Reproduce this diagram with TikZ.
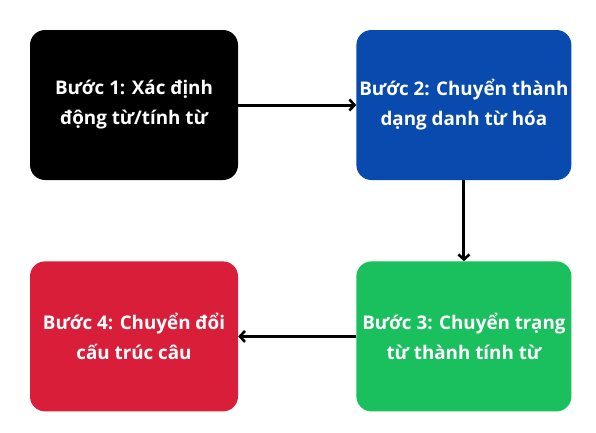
\documentclass[tikz,border=0pt]{standalone}
\usepackage{fontspec}
\setmainfont{Open Sans}
\usepackage{tikz}
\usetikzlibrary{positioning, arrows.meta, calc}
\definecolor{stepblue}{RGB}{8,74,174}
\definecolor{stepgreen}{RGB}{26,191,94}
\definecolor{stepred}{RGB}{217,30,58}
\tikzset{
  flow/.style={
	x=1pt, y=1pt, % one unit is one pixel of the picture
	node distance=118pt, % gap between the two columns
	stepbox/.style={rectangle, rounded corners=15pt, minimum height=150pt, inner sep=2pt,
	  align=center, text=white, font=\bfseries\fontsize{18.8}{30}\selectfont}, % sets the look of each box
	link/.style={-{Straight Barb[length=5pt,width=11pt,line width=2.6pt]}, line width=3pt}, % the connectors
  }
}

\begin{document}
\begin{tikzpicture}[flow]
\useasboundingbox (0,0) rectangle (596,-432);
\node[stepbox, fill=black, minimum width=208pt] (S1) at (134,-105) {Bước 1: Xác định\\động từ/tính từ};
\node[stepbox, fill=stepblue, minimum width=215pt, right=118pt of S1] (S2) {Bước 2: Chuyển thành\\dạng danh từ hóa};
\node[stepbox, fill=stepgreen, minimum width=215pt, below=81pt of S2] (S3) {Bước 3: Chuyển trạng\\từ thành tính từ};
\node[stepbox, fill=stepred, minimum width=208pt, left=118pt of S3] (S4) {Bước 4: Chuyển đổi\\cấu trúc câu};

\draw[link] (S1) -- (S2);
\draw[link] (S2) -- (S3);
\draw[link] (S3) -- (S4);
\end{tikzpicture}
\end{document}
